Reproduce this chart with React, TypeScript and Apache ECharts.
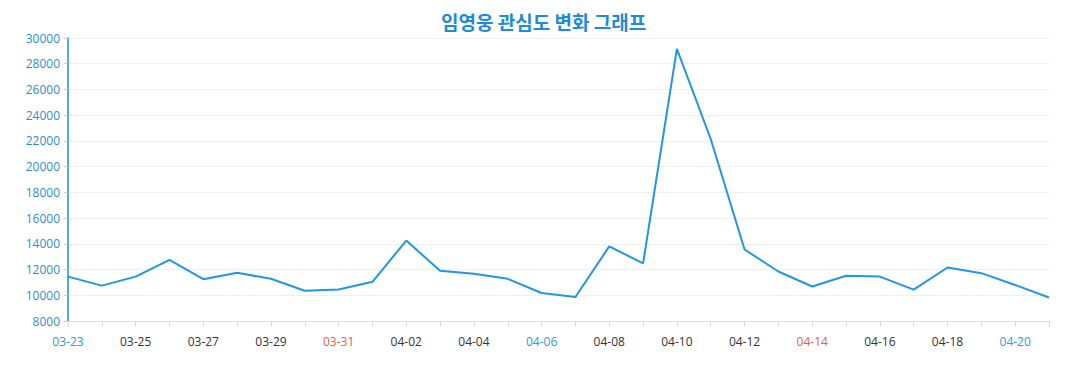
import React, { useEffect, useRef } from "react";
import * as echarts from "echarts";

const categories: string[] = [
  "03-23", "03-24", "03-25", "03-26", "03-27", "03-28", "03-29", "03-30", "03-31",
  "04-01", "04-02", "04-03", "04-04", "04-05", "04-06", "04-07", "04-08", "04-09",
  "04-10", "04-11", "04-12", "04-13", "04-14", "04-15", "04-16", "04-17", "04-18",
  "04-19", "04-20", "04-21",
];

const interest: number[] = [
  11450, 10750, 11450, 12750, 11250, 11750, 11280, 10350, 10450,
  11050, 14250, 11900, 11680, 11280, 10180, 9870, 13800, 12480,
  29150, 22150, 13560, 11850, 10680, 11520, 11450, 10440, 12160,
  11720, 10800, 9830,
];

// weekday markers: Saturday / Sunday
const saturdays: string[] = ["03-23", "03-30", "04-06", "04-13", "04-20"];
const sundays: string[] = ["03-24", "03-31", "04-07", "04-14", "04-21"];

const yTicks = { min: 8000, max: 30000, interval: 2000 };

const titleText = "임영웅 관심도 변화 그래프";

export default function App() {
  const ref = useRef<HTMLDivElement>(null);
  useEffect(() => {
    document.body.style.margin = "0";
    if (!ref.current) return;
    const chart = echarts.init(ref.current, undefined, { renderer: "svg" });
    chart.setOption({
      animation: false,
      title: {
        text: titleText,
        left: 436,
        top: 7,
        textStyle: {
          color: "#1e8ad8",
          fontSize: 19,
          fontWeight: "bold",
          fontFamily: "'Noto Sans CJK KR', 'Noto Sans', sans-serif",
        },
      },
      grid: { left: 68, right: 28, top: 38, bottom: 69, containLabel: false },
      xAxis: {
        type: "category",
        data: categories,
        boundaryGap: false,
        axisLine: { lineStyle: { color: "#dddddd", width: 1 } },
        axisTick: { show: true, interval: 0, length: 6, lineStyle: { color: "#dddddd" } },
        axisLabel: {
          interval: 1,
          margin: 14,
          fontSize: 12,
          fontFamily: "'Open Sans', 'Noto Sans', sans-serif",
          color: (value: string) =>
            saturdays.includes(value) ? "#2a9ad9" : sundays.includes(value) ? "#e0604a" : "#333333",
        },
        splitLine: { show: false },
      },
      yAxis: {
        type: "value",
        min: yTicks.min,
        max: yTicks.max,
        interval: yTicks.interval,
        axisLine: { show: true, lineStyle: { color: "#1e8ad8", width: 1.5 } },
        axisTick: { show: true, length: 4, lineStyle: { color: "#cccccc" } },
        axisLabel: {
          fontSize: 12,
          margin: 8,
          color: "#2a8fd3",
          fontFamily: "'Open Sans', 'Noto Sans', sans-serif",
          formatter: (v: number) => String(v),
        },
        splitLine: { show: true, lineStyle: { color: "#f0f0f0" } },
      },
      series: [
        {
          type: "line",
          data: interest,
          symbol: "none",
          lineStyle: { color: "#2196e3", width: 2 },
          itemStyle: { color: "#2196e3" },
        },
      ],
    });
    return () => chart.dispose();
  }, []);
  return <div ref={ref} style={{ width: 1077, height: 390 }} />;
}
